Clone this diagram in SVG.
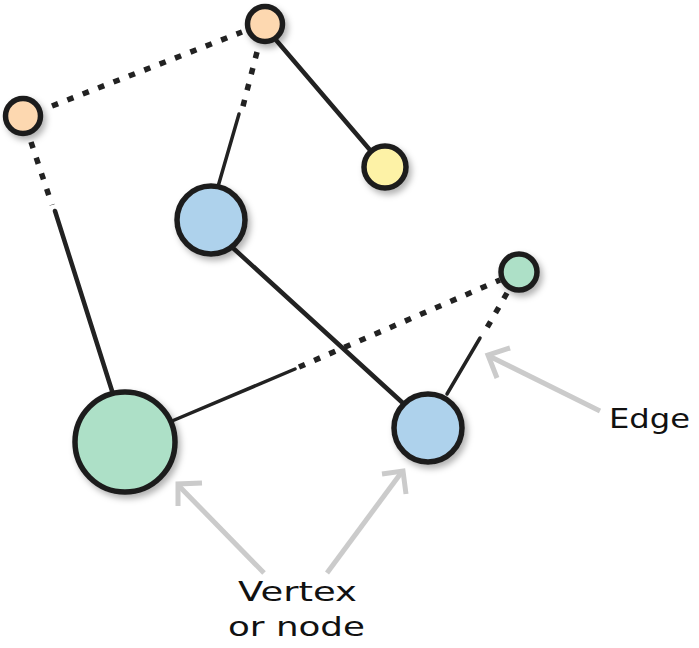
<svg xmlns="http://www.w3.org/2000/svg" width="699" height="648" viewBox="0 0 699 648">
  <style>
    .node { stroke: #1e1e1e; stroke-width: 5.5; filter: url(#shadow); }
    .solid { stroke: #222; stroke-width: 4.5; stroke-linecap: round; fill: none; }
    .thin { stroke: #222; stroke-width: 3.5; stroke-linecap: round; fill: none; }
    .dotted { stroke: #222; stroke-width: 5.5; stroke-dasharray: 6.5 10; stroke-linecap: butt; fill: none; }
    .pointer { stroke: #cbcbcb; stroke-width: 5; fill: none; stroke-linecap: butt; stroke-linejoin: miter; }
    .label { font-family: "DejaVu Sans", "Liberation Sans", sans-serif; font-size: 27px; fill: #111; }
    .orange { fill: #fdd8b0; }
    .yellow { fill: #fdf2a6; }
    .blue { fill: #aed2ec; }
    .green { fill: #ade0c7; }
  </style>
  <defs>
    <filter id="shadow" x="-30%" y="-30%" width="170%" height="170%">
      <feDropShadow dx="3" dy="4" stdDeviation="3" flood-color="#000" flood-opacity="0.3"/>
    </filter>
  </defs>
  <rect width="699" height="648" fill="#ffffff"/>

  <g id="connectors">
    <line class="dotted" x1="52" y1="106" x2="242" y2="32"/>
    <line class="dotted" x1="257" y1="52" x2="242" y2="110"/>
    <line class="thin" x1="239" y1="114" x2="217" y2="190"/>
    <line class="solid" x1="276" y1="40" x2="370" y2="150"/>
    <line class="dotted" x1="31" y1="142" x2="52" y2="205"/>
    <line class="solid" x1="55" y1="211" x2="113" y2="394"/>
    <line class="solid" x1="233" y1="248" x2="405" y2="405"/>
    <line class="thin" x1="172" y1="421" x2="295" y2="369"/>
    <line class="dotted" x1="299" y1="367" x2="500" y2="280"/>
    <line class="dotted" x1="507" y1="293" x2="484" y2="333"/>
    <line class="thin" x1="480" y1="338" x2="447" y2="394"/>
  </g>

  <g id="node-orange-top"><circle class="node orange" cx="265" cy="24" r="17.5"/></g>
  <g id="node-orange-left"><circle class="node orange" cx="23" cy="116" r="17.5"/></g>
  <g id="node-yellow"><circle class="node yellow" cx="385" cy="167" r="21"/></g>
  <g id="node-blue-top"><circle class="node blue" cx="211" cy="220" r="34"/></g>
  <g id="node-green-small"><circle class="node green" cx="519" cy="272" r="18"/></g>
  <g id="node-green-big"><circle class="node green" cx="125" cy="442" r="50"/></g>
  <g id="node-blue-bottom"><circle class="node blue" cx="428" cy="428" r="34"/></g>

  <g id="pointers">
    <line class="pointer" x1="600" y1="411" x2="489" y2="356"/>
    <polyline class="pointer" points="510,348 488,355 497,378"/>
    <line class="pointer" x1="264" y1="573" x2="179" y2="486"/>
    <polyline class="pointer" points="202,483 178,484 178,506"/>
    <line class="pointer" x1="327" y1="573" x2="401" y2="473"/>
    <polyline class="pointer" points="382,474 403,471 406,494"/>
  </g>

  <g id="label-edge"><text class="label" x="609" y="428" font-size="33" textLength="81" lengthAdjust="spacingAndGlyphs">Edge</text></g>
  <g id="label-vertex">
    <text class="label" x="238" y="601" textLength="119" lengthAdjust="spacingAndGlyphs">Vertex</text>
    <text class="label" x="228" y="636" textLength="137" lengthAdjust="spacingAndGlyphs">or node</text>
  </g>
</svg>
